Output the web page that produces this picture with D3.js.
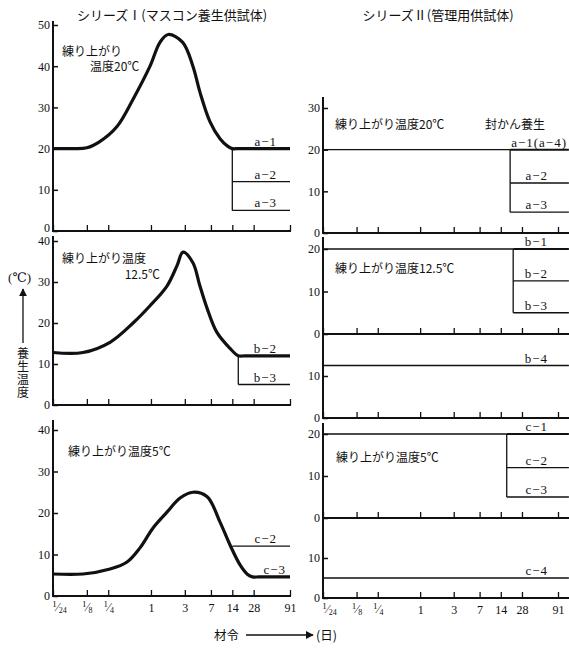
<!DOCTYPE html>
<html>
<head>
<meta charset="utf-8">
<script src="https://d3js.org/d3.v7.min.js"></script>
<style>
  body { margin: 0; background: #fff; }
  text { font-family: "Liberation Serif", "DejaVu Serif", "Noto Sans CJK JP", serif; fill: #111; }
  .jp { font-family: "Noto Sans CJK JP", sans-serif; }
</style>
</head>
<body>
<div id="chart"></div>
<script>
// ---- data ----
var days = [1/24, 1/8, 1/4, 1, 3, 7, 14, 28, 91];
var dayLabels = ["1/24", "1/8", "1/4", "1", "3", "7", "14", "28", "91"];
var lastDay = 130;  // series II lines run on past 91 days

// series I : [age (days), temperature]
var aCurve = [[1/24,20],[0.08,20],[0.125,20.2],[0.19,21.7],[0.33,25.3],[0.56,32],[0.97,40],[1.34,45.8],[1.75,47.7],[2.8,45.8],[3.9,40],[4.9,33.7],[6.8,26.5],[9.4,22.4],[12,20.6],[14,20],[17,20],[28,20],[91,20]];
var bCurve = [[1/24,12.8],[0.11,12.8],[0.265,15.3],[0.56,20],[0.97,24.2],[1.68,29],[2.33,34],[2.83,37.3],[3.9,34.7],[4.9,29],[6.2,23.5],[8.5,17.7],[13,13.8],[17,12],[21,12],[30,12],[91,12]];
var cCurve = [[1/24,5.3],[0.11,5.3],[0.265,6.5],[0.46,8.2],[0.7,11.6],[1.07,16.4],[1.68,20.2],[2.57,23.6],[3.9,25],[6.2,23.9],[9.4,17.8],[13,12.3],[18,7.5],[23,5.2],[27,4.6],[33,4.6],[45,4.6],[91,4.6]];

var stepDayI = [14, 17, 14];
var aLevelsI = [20, 12, 5];   var aLabelsI = ["a−1", "a−2", "a−3"];
var bLevelsI = [12, 5];       var bLabelsI = ["b−2", "b−3"];
var cLevelsI = [12, 4.6];     var cLabelsI = ["c−2", "c−3"];

// series II
var stepDayII = [19, 21, 17];
var aLevelsII = [20, 12, 5];    var aLabelsII = ["a−1(a−4)", "a−2", "a−3"];
var bLevelsII = [20, 12.5, 5];  var bLabelsII = ["b−1", "b−2", "b−3"];
var b4Level = 12.5;             var b4Label = "b−4";
var cLevelsII = [20, 12, 5];    var cLabelsII = ["c−1", "c−2", "c−3"];
var c4Level = 5;                var c4Label = "c−4";

// ---- svg ----
var width = 569, height = 648;
var svg = d3.select("#chart").append("svg")
    .attr("width", width).attr("height", height);

var xL = d3.scaleLog().domain([1/24, 91]).range([53, 290]);
var xR = d3.scaleLog().domain([1/24, 91]).range([323, 558]);

function frame(x, y, top, xEnd, yTicks, labels, liftZero) {
    var g = svg.append("g");
    var x0 = x.range()[0], y0 = y(0);
    g.append("line").attr("x1", x0).attr("x2", x0).attr("y1", top).attr("y2", y0 + 1)
        .attr("stroke", "#111").attr("stroke-width", 2);
    g.append("line").attr("x1", x0).attr("x2", xEnd).attr("y1", y0).attr("y2", y0)
        .attr("stroke", "#111").attr("stroke-width", 2);

    var ya = g.append("g").attr("transform", "translate(" + x0 + ",0)")
        .call(d3.axisLeft(y).tickValues(yTicks).tickSizeInner(-5).tickSizeOuter(0).tickPadding(3));
    ya.select(".domain").remove();
    ya.selectAll("line").attr("stroke", "#111").attr("stroke-width", 1.5);
    ya.selectAll("text").attr("font-size", 12).attr("font-family", null)
        .attr("y", function(d) { return (liftZero && d === 0) ? -3 : 0; });

    var xa = g.append("g").attr("transform", "translate(0," + y0 + ")")
        .call(d3.axisBottom(x).tickValues(days).tickSizeInner(-6).tickSizeOuter(0).tickPadding(7)
            .tickFormat(function(d, i) { return labels ? dayLabels[i] : ""; }));
    xa.select(".domain").remove();
    xa.selectAll("line").attr("stroke", "#111").attr("stroke-width", 1.3);
    xa.selectAll("text").attr("font-size", 12).attr("font-family", null)
        .each(function(d, i) {
            var s = dayLabels[i];
            if (!labels || s.indexOf("/") < 0) return;
            var parts = s.split("/");
            var t = d3.select(this).text(null);
            if (i === 0) t.attr("dx", 6);
            t.append("tspan").attr("font-size", 9).attr("dy", "0.45em").text(parts[0]);
            t.append("tspan").attr("font-size", 12).attr("dy", "0.3em").text("⁄");
            t.append("tspan").attr("font-size", 8).attr("dy", "0.3em").text(parts[1]);
        });
}

function hline(x, y, d1, d2, v, w) {
    svg.append("line").attr("x1", x(d1)).attr("x2", x(d2)).attr("y1", y(v)).attr("y2", y(v))
        .attr("stroke", "#111").attr("stroke-width", w || 1.3);
}
function vline(x, y, d, v1, v2) {
    svg.append("line").attr("x1", x(d)).attr("x2", x(d)).attr("y1", y(v1)).attr("y2", y(v2))
        .attr("stroke", "#111").attr("stroke-width", 1.3);
}
function label(xp, yp, s, anchor) {
    svg.append("text").attr("x", xp).attr("y", yp - 3).attr("font-size", 13)
        .attr("text-anchor", anchor || "end").attr("letter-spacing", 1).text(s);
}
function jp(xp, yp, s, size, anchor) {
    return svg.append("text").attr("class", "jp").attr("x", xp).attr("y", yp)
        .attr("font-size", size || 12).attr("text-anchor", anchor || "start").text(s);
}
function curve(x, y, data) {
    var line = d3.line().x(function(d) { return x(d[0]); }).y(function(d) { return y(d[1]); })
        .curve(d3.curveCatmullRom.alpha(0.5));
    svg.append("path").datum(data).attr("d", line)
        .attr("fill", "none").attr("stroke", "#111").attr("stroke-width", 3.2)
        .attr("stroke-linejoin", "round");
}

// ---- series I (left) ----
var yLA = d3.scaleLinear().domain([0, 50]).range([231, 25]);
var yLB = d3.scaleLinear().domain([0, 40]).range([405, 241]);
var yLC = d3.scaleLinear().domain([0, 40]).range([596, 430]);

frame(xL, yLA, 21, 291, [0, 10, 20, 30, 40, 50], false, true);
frame(xL, yLB, 236, 291, [0, 10, 20, 30, 40], false);
frame(xL, yLC, 420, 291, [0, 10, 20, 30, 40], true);

var labEndL = xL(91) - 13;

// a
vline(xL, yLA, stepDayI[0], aLevelsI[0], aLevelsI[2]);
aLevelsI.forEach(function(v, i) {
    if (i > 0) hline(xL, yLA, stepDayI[0], 91, v);
    label(labEndL, yLA(v), aLabelsI[i]);
});
curve(xL, yLA, aCurve);
jp(62, 56, "練り上がり");
jp(90, 71, "温度20℃");

// b
vline(xL, yLB, stepDayI[1], bLevelsI[0], bLevelsI[1]);
hline(xL, yLB, stepDayI[1], 91, bLevelsI[1]);
bLevelsI.forEach(function(v, i) { label(labEndL, yLB(v), bLabelsI[i]); });
curve(xL, yLB, bCurve);
jp(62, 263, "練り上がり温度");
jp(160, 279, "12.5℃", 12, "end");

// c
hline(xL, yLC, stepDayI[2], 91, cLevelsI[0]);
cLevelsI.forEach(function(v, i) { label(labEndL + (i === 1 ? 9 : 0), yLC(v), cLabelsI[i]); });
curve(xL, yLC, cCurve);
jp(68, 456, "練り上がり温度5℃");

// ---- series II (right) ----
var yRA = d3.scaleLinear().domain([0, 30]).range([233, 108]);
var yRB1 = d3.scaleLinear().domain([0, 20]).range([334, 249]);
var yRB2 = d3.scaleLinear().domain([0, 20]).range([418, 334]);
var yRC1 = d3.scaleLinear().domain([0, 20]).range([518, 434]);
var yRC2 = d3.scaleLinear().domain([0, 20]).range([598, 518]);

frame(xR, yRA, 97, width, [0, 10, 20, 30], false);
frame(xR, yRB1, 237, width, [0, 10, 20], false);
frame(xR, yRB2, 334, width, [0, 10], false);
frame(xR, yRC1, 423, width, [0, 10, 20], false);
frame(xR, yRC2, 518, width, [0, 10], true);

var labEndR = xR(91) - 10;

function stepGroup(y, step, levels, labels) {
    hline(xR, y, 1/24, step, levels[0], 1.4);
    hline(xR, y, step, lastDay, levels[0], 2);
    vline(xR, y, step, levels[0], levels[levels.length - 1]);
    levels.forEach(function(v, i) {
        if (i > 0) hline(xR, y, step, lastDay, v);
        var long = labels[i].length > 3;
        label(long ? width - 2 : labEndR, y(v), labels[i]);
    });
}

stepGroup(yRA, stepDayII[0], aLevelsII, aLabelsII);
jp(335, 129, "練り上がり温度20℃");
jp(485, 129, "封かん養生");

stepGroup(yRB1, stepDayII[1], bLevelsII, bLabelsII);
hline(xR, yRB2, 1/24, lastDay, b4Level);
label(labEndR, yRB2(b4Level), b4Label);
jp(335, 273, "練り上がり温度12.5℃");

stepGroup(yRC1, stepDayII[2], cLevelsII, cLabelsII);
hline(xR, yRC2, 1/24, lastDay, c4Level);
label(labEndR, yRC2(c4Level), c4Label);
jp(336, 462, "練り上がり温度5℃");

// ---- titles and axis names ----
jp(172, 20, "シリーズⅠ(マスコン養生供試体)", 13, "middle");
jp(438, 20, "シリーズⅡ(管理用供試体)", 13, "middle");

svg.append("text").attr("x", 8).attr("y", 282).attr("font-size", 13).text("(℃)");
svg.append("defs").append("marker").attr("id", "arr")
    .attr("viewBox", "0 0 10 10").attr("refX", 9).attr("refY", 5)
    .attr("markerWidth", 6).attr("markerHeight", 6).attr("orient", "auto")
    .append("path").attr("d", "M0,0 L10,5 L0,10 z").attr("fill", "#111");
svg.append("line").attr("x1", 23).attr("x2", 23).attr("y1", 343).attr("y2", 289)
    .attr("stroke", "#111").attr("stroke-width", 1.3).attr("marker-end", "url(#arr)");
jp(23, 347, "養生温度", 12).attr("writing-mode", "vertical-rl")
    .style("writing-mode", "vertical-rl").attr("letter-spacing", 1);

jp(214, 640, "材令", 12.5);
svg.append("line").attr("x1", 246).attr("x2", 313).attr("y1", 635).attr("y2", 635)
    .attr("stroke", "#111").attr("stroke-width", 1.3).attr("marker-end", "url(#arr)");
jp(316, 640, "(日)", 12.5);
</script>
</body>
</html>
